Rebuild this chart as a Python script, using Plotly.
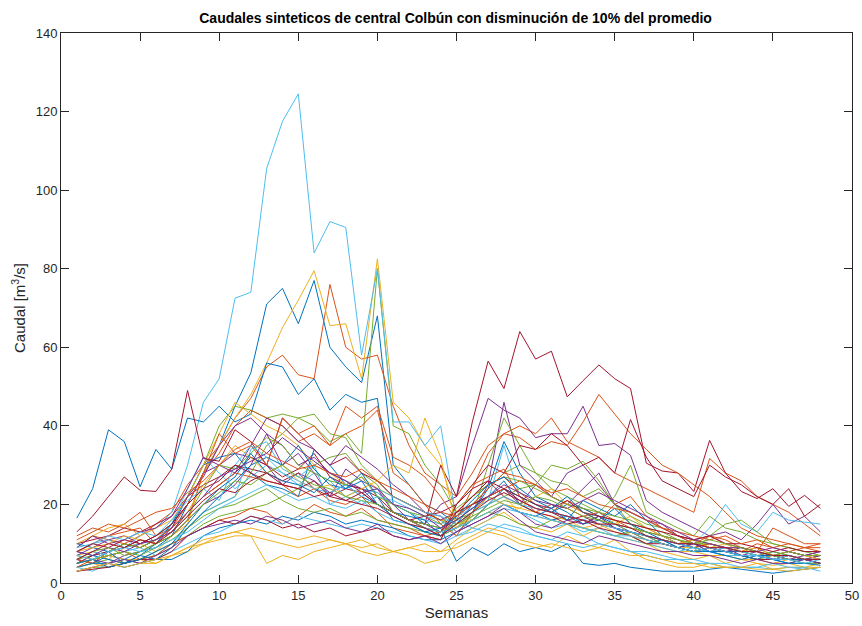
import plotly.graph_objects as go

semanas = list(range(1, 49))

# caudales sinteticos [m3/s], uno por serie
b00 = [6, 5, 7, 6, 8, 9, 12, 20, 28, 35, 45, 53.5, 71, 75, 66, 77, 60, 55, 51, 68, 30, 25, 20, 18, 15, 20, 22, 26, 20, 18, 16, 17, 15, 16, 14, 12, 10, 11, 9, 8, 9, 8, 7, 7, 6, 6, 5, 5]
o01 = [9, 12, 11, 10, 12, 15, 18, 25, 30, 35, 42, 47, 55, 58, 53, 52, 76, 60, 57, 58, 45, 35, 28, 25, 22, 28, 35, 38, 40, 38, 42, 36, 34, 32, 28, 26, 24, 22, 20, 18, 31.7, 28, 26, 22, 20, 18, 15, 12]
y02 = [7, 8, 6, 9, 10, 8, 12, 15, 28, 35, 42, 48, 56, 65, 72, 79.5, 65.5, 66, 52, 82.5, 46, 42, 35, 30, 18, 16, 20, 22, 18, 17, 16, 15, 14, 13, 12, 11, 10, 9, 8, 8, 7, 7, 6, 6, 5, 6, 5, 5]
p03 = [7, 9, 11, 12, 10, 12, 15, 20, 28, 30, 33, 32, 30, 25, 28, 26, 23, 25, 24, 20, 18, 16, 15, 20, 22, 35, 47, 44, 42, 37, 38, 38, 45, 35, 35.5, 32.5, 21, 18, 16, 14, 12, 13, 11, 15, 20, 15, 17, 13]
g04 = [6, 7, 8, 9, 10, 12, 15, 22, 30, 40, 45, 44, 42, 43, 42, 40, 36, 38, 33, 80, 40, 38, 30, 25, 18, 20, 24, 28, 30, 28, 26, 25, 22, 24, 20, 17, 15, 14, 12, 11, 10, 9, 8, 8, 7, 7, 6, 6]
l05 = [8, 10, 11, 9, 12, 14, 18, 30, 46, 52, 72.5, 74, 105.5, 117.5, 124.5, 84, 92, 90.5, 58, 80, 41, 41, 35, 40, 16, 14, 13, 15, 14, 12, 11, 13, 12, 10, 9, 8, 7, 6, 6, 5, 5, 4, 4, 4, 3.5, 4, 3.5, 4]
r06 = [10, 11, 12, 14, 13, 15, 17, 22, 25, 27, 30, 29, 28, 26, 28, 24, 22, 24, 23, 20, 18, 16, 15, 30, 22, 41, 56.5, 49.5, 64, 57, 59, 47.4, 51.5, 55.5, 52, 49.5, 30.5, 28.5, 28, 23.3, 36.3, 28, 23.3, 21.5, 24, 19.5, 22.3, 19]
b07 = [16.5, 24, 39, 36, 24.5, 34, 29, 42, 41, 45, 41, 43, 56, 55, 48, 52, 44, 48, 46, 47, 20, 18, 15, 14, 5.5, 9, 7, 10, 8, 9, 8, 10, 5, 4.5, 5, 4, 3.5, 3, 3, 3, 3.5, 4, 3.5, 3, 2.5, 3, 3.5, 4]
o08 = [12, 14, 13, 15, 18, 12, 14, 20, 28, 33, 40, 44, 42, 40, 36, 38, 35, 45, 42, 45, 32, 30, 27, 22, 16, 24, 33, 38, 37, 34, 36, 35, 41, 48, 43, 38, 34, 30, 28, 25, 22, 18, 14, 12, 11, 10, 9, 8]
y09 = [4, 5, 4, 6, 5, 5, 7, 8, 10, 12, 13, 12, 5, 7, 6, 8, 9, 10, 8, 7, 8, 7, 5, 6, 10, 12, 14, 13, 11, 10, 9, 12, 10, 9, 11, 8, 6, 5, 4, 4, 5, 4, 4, 5, 3.5, 4, 4, 5]
p10 = [6, 5, 8, 9, 11, 10, 12, 16, 20, 22, 25, 30, 38, 35, 30, 32, 28, 26, 24, 23, 20, 16, 14, 12, 15, 18, 25, 46, 30, 26, 22, 20, 24, 28, 20, 18, 16, 15, 12, 10, 9, 8, 9, 8, 7, 6, 7, 8]
g11 = [4, 5, 6, 5, 6, 7, 9, 14, 18, 20, 22, 28, 35, 38, 42, 43, 38, 37, 30, 26, 22, 20, 18, 16, 14, 17, 30, 42, 35, 28, 24, 22, 20, 18, 22, 30, 18, 16, 14, 12, 17, 14, 13, 11, 10, 9, 8, 8]
l12 = [5, 7, 8, 9, 10, 11, 15, 24, 32, 28, 24, 27, 30, 28, 25, 28, 26, 22, 24, 23, 20, 18, 16, 15, 17, 19, 21, 35, 22, 20, 18, 17, 16, 18, 15, 14, 13, 12, 11, 10, 14, 20, 15, 13, 18, 16, 15.5, 15]
r13 = [5, 7, 8, 10, 9, 11, 14, 18, 22, 25, 28, 32, 30, 27, 29, 33, 27, 25, 24, 22, 18, 16, 17, 18, 20, 25, 30, 28, 35, 34, 38, 35, 30, 32, 28, 41.6, 32, 26, 24, 22, 30, 27, 25, 22, 20, 24, 17, 20]
b14 = [8, 7, 6, 5, 7, 10, 15, 22, 30, 32, 33, 28, 25, 24, 22, 34, 30, 25, 22, 20, 18, 17, 16, 12, 14, 18, 24, 36, 28, 22, 20, 18, 15, 17, 14, 13, 12, 10, 9, 10, 8, 7, 7, 6, 6, 5, 6, 5]
o15 = [6, 5, 8, 10, 9, 11, 14, 18, 22, 25, 28, 27, 26, 25, 22, 24, 21, 20, 22, 18, 14, 13, 12, 11, 18, 22, 25, 27, 23, 20, 18, 21, 19, 17, 16, 14, 13, 12, 10, 11, 9, 8, 8, 9, 7, 8, 9, 10]
y16 = [10, 12, 14, 15, 12, 14, 16, 22, 30, 38, 46, 43, 40, 38, 35, 30, 28, 25, 27, 24, 22, 20, 18, 16, 15, 16, 18, 20, 19, 18, 17, 16, 14, 15, 13, 12, 11, 10, 9, 9, 8, 8, 7, 7, 6, 7, 6, 6]
p17 = [5, 6, 5, 7, 8, 10, 14, 22, 27, 35, 40, 42, 38, 30, 33, 28, 22, 29, 26, 24, 18, 16, 15, 13, 17, 20, 22, 24, 20, 25, 22, 28, 30, 25, 20, 18, 16, 14, 12, 11, 12, 10, 9, 8, 7, 8, 7, 6]
g18 = [3, 4, 4, 5, 6, 8, 10, 12, 15, 17, 18, 19, 20, 22, 24, 30, 32, 33, 28, 25, 18, 16, 15, 14, 16, 18, 20, 22, 24, 25, 30, 29, 31, 26, 20, 15, 12, 10, 9, 8, 12, 15, 16, 13, 10, 9, 8, 7]
l19 = [6, 8, 7, 8, 9, 7, 10, 14, 18, 20, 22, 34, 36, 29, 27, 30, 20, 22, 20, 22, 21, 19, 17, 16, 12, 14, 16, 19, 18, 16, 14, 15, 13, 14, 12, 11, 10, 9, 8, 9, 8, 7, 7, 6, 6, 5, 5, 5]
r20 = [13, 17, 22, 27, 23.6, 23.3, 29, 49, 31.7, 31, 39, 36, 30, 42, 38, 34, 30, 32, 28, 26, 22, 20, 18, 16, 18, 20, 22, 24, 21, 19, 18, 16, 17, 15, 14, 13, 12, 11, 10, 9, 10, 9, 8, 7, 7, 6, 6, 7]
b21 = [4, 5, 5, 4, 5, 6, 6, 8, 12, 14, 15, 16, 15, 17, 16, 18, 17, 15, 16, 15, 14, 12, 11, 11, 13, 16, 20, 24, 22, 20, 18, 20, 19, 17, 15, 13, 12, 11, 10, 10, 9, 8, 8, 7, 7, 6, 6, 5]
o22 = [4, 6, 7, 8, 6, 7, 10, 12, 14, 16, 17, 19, 18, 15, 17, 20, 18, 17, 19, 16, 15, 14, 12, 13, 20, 25, 27, 29, 22, 18, 20, 19, 17, 18, 16, 15, 14, 12, 11, 9, 10, 9, 8, 10, 9, 8, 7, 7]
y23 = [5, 6, 7, 6, 6, 5, 7, 9, 10, 11, 12, 12, 11, 10, 9, 10, 11, 10, 9, 10, 8, 9, 10, 8, 11, 14, 16, 18, 15, 14, 13, 15, 12, 14, 16, 12, 10, 8, 7, 6, 7, 5, 6, 5, 4.5, 5, 4, 4]
p24 = [9, 12, 10, 11, 13, 14, 17, 24, 32, 30, 28, 35, 42, 40, 36, 34, 30, 35, 32, 29, 25, 22, 18, 17, 13, 15, 17, 20, 18, 15, 14, 16, 15, 17, 14, 13, 11, 10, 9, 10, 8, 9, 7, 8, 6, 7, 6, 7]
g25 = [5, 6, 7, 8, 7, 9, 11, 14, 17, 19, 20, 22, 24, 21, 19, 18, 19, 17, 18, 16, 15, 14, 13, 12, 14, 16, 18, 17, 15, 14, 16, 15, 14, 13, 12, 13, 11, 10, 9, 8, 9, 8, 7, 6, 7, 6, 5, 5]
l26 = [4, 3, 5, 6, 5, 6, 8, 10, 12, 13, 15, 17, 16, 15, 17, 16, 15, 14, 15, 14, 13, 12, 11, 10, 12, 13, 15, 14, 13, 12, 11, 10, 9, 10, 9, 8, 8, 7, 6, 6, 5, 5, 4, 4, 5, 4, 4, 3]
r27 = [3, 3.5, 4, 5, 6, 6, 8, 12, 14, 16, 15, 17, 16, 14, 15, 13, 14, 12, 13, 14, 12, 11, 12, 11, 20, 24, 26, 22, 20, 18, 17, 15, 16, 14, 13, 12, 10, 10, 9, 8, 9, 8, 7, 6, 6, 7, 6, 5]
b28 = [10, 9, 8, 5, 7, 6, 9, 14, 18, 22, 26, 30, 32, 30, 35, 29, 25, 24, 28, 22, 16, 15, 13, 12, 16, 19, 22, 20, 18, 17, 19, 16, 21, 19, 17, 20, 16, 12, 10, 9, 8, 8, 7, 6, 8, 7, 6, 6]
o29 = [8, 10, 12, 13, 14, 10, 12, 16, 28, 38, 33, 35, 30, 42, 38, 40, 35, 38, 40, 44, 28, 25, 20, 15, 12, 18, 22, 24, 26, 25, 22, 20, 18, 16, 20, 22, 17, 14, 12, 10, 12, 11, 9, 8, 14, 12, 10, 10]
y30 = [8, 9, 10, 12, 11, 10, 13, 18, 25, 30, 35, 32, 28, 30, 26, 24, 25, 22, 24, 26, 30, 28, 42, 32, 14, 18, 22, 20, 19, 22, 24, 20, 18, 16, 15, 17, 14, 12, 10, 11, 9, 10, 8, 9, 7, 8, 7, 6]
p31 = [3, 4, 5, 6, 5, 7, 9, 12, 14, 15, 16, 15, 17, 16, 14, 15, 16, 14, 13, 15, 12, 11, 12, 10, 13, 15, 17, 19, 16, 13, 12, 11, 10, 12, 11, 10, 9, 8, 8, 7, 7, 6, 5, 6, 5, 5, 6, 5]
g32 = [7, 6, 8, 10, 9, 11, 13, 17, 24, 30, 29, 33, 37, 35, 30, 28, 26, 25, 27, 22, 20, 18, 17, 15, 19, 22, 25, 27, 26, 24, 22, 20, 19, 18, 17, 16, 14, 13, 11, 10, 10, 9, 8, 7, 8, 7, 6, 6]
l33 = [9, 10, 12, 11, 13, 12, 16, 21, 24, 21, 30, 35, 32, 28, 26, 24, 23, 25, 22, 24, 22, 20, 18, 17, 15, 18, 20, 22, 20, 19, 18, 17, 16, 15, 14, 13, 12, 11, 10, 9, 8, 9, 8, 7, 6, 7, 6, 6]
r34 = [8, 10, 9, 11, 10, 12, 15, 20, 24, 26, 30, 28, 26, 25, 24, 26, 22, 21, 23, 20, 18, 16, 14, 13, 18, 22, 26, 24, 22, 20, 19, 21, 18, 17, 16, 15, 14, 13, 12, 11, 12, 10, 10, 9, 8, 9, 8, 8]
b35 = [5, 6, 4, 5, 6, 8, 10, 15, 20, 24, 27, 33, 28, 26, 25, 23, 27, 24, 26, 20, 17, 15, 13, 14, 17, 21, 25, 27, 24, 21, 19, 22, 18, 16, 19, 15, 13, 11, 9, 8, 8, 7, 6, 7, 6, 5, 5, 4.5]
o36 = [11, 13, 15, 14, 16, 18, 19, 23, 26, 30, 34, 36, 33, 31, 29, 30, 28, 27, 29, 26, 24, 22, 20, 18, 17, 20, 24, 28, 27, 25, 23, 24, 22, 20, 19, 18, 16, 14, 13, 12, 11, 12, 10, 11, 9, 10, 9, 9]
y37 = [3, 4, 5, 4, 5, 6, 7, 9, 11, 12, 13, 14, 13, 12, 11, 12, 11, 10, 11, 9, 8, 9, 8, 8, 9, 11, 13, 12, 10, 9, 10, 9, 8, 9, 8, 7, 7, 6, 5, 5, 4, 4, 4, 3.5, 3.5, 3, 3.5, 4]
p38 = [8, 7, 9, 8, 10, 11, 13, 18, 22, 27, 29, 31, 33, 37, 34, 31, 28, 26, 23, 24, 20, 19, 17, 14, 16, 19, 22, 25, 23, 21, 20, 19, 21, 23, 21, 19, 17, 15, 13, 11, 10, 9, 9, 8, 9, 8, 7, 8]
g39 = [6, 8, 9, 7, 8, 10, 12, 16, 20, 23, 26, 25, 28, 30, 27, 25, 24, 22, 21, 20, 18, 16, 14, 13, 15, 17, 19, 21, 20, 22, 21, 19, 17, 16, 15, 14, 13, 12, 11, 10, 11, 10, 9, 8, 7, 8, 7, 7]
l40 = [7, 6, 8, 9, 8, 9, 11, 13, 16, 19, 21, 23, 25, 23, 21, 22, 20, 19, 21, 18, 16, 15, 14, 13, 14, 16, 18, 20, 18, 17, 16, 15, 14, 13, 12, 12, 11, 10, 9, 8, 9, 8, 7, 7, 6, 6, 5, 6]
r41 = [6, 8, 10, 9, 11, 10, 13, 17, 21, 24, 23, 26, 28, 25, 24, 22, 23, 21, 20, 19, 17, 15, 14, 12, 15, 18, 21, 23, 21, 19, 18, 17, 16, 15, 15, 14, 12, 11, 10, 10, 9, 9, 8, 8, 7, 7, 6, 6]

series = [b00, o01, y02, p03, g04, l05, r06, b07, o08, y09, p10, g11, l12, r13, b14, o15, y16,
          p17, g18, l19, r20, b21, o22, y23, p24, g25, l26, r27, b28, o29, y30, p31, g32, l33,
          r34, b35, o36, y37, p38, g39, l40, r41]

# orden de colores por defecto de MATLAB
colores = ["#0072BD", "#D95319", "#EDB120", "#7E2F8E", "#77AC30", "#4DBEEE", "#A2142F"]

fig = go.Figure()
for i, s in enumerate(series):
    fig.add_trace(go.Scatter(x=semanas, y=s, mode="lines",
                             line=dict(color=colores[i % 7], width=1),
                             showlegend=False))

eje = dict(showline=True, linecolor="#262626", linewidth=1, mirror="ticks",
           ticks="inside", ticklen=8, tickcolor="#262626", showgrid=False,
           zeroline=False, automargin=False, tickfont=dict(size=13, color="#262626"))

fig.update_xaxes(range=[0, 50], dtick=5, title=dict(text="Semanas", standoff=5,
                 font=dict(size=15, color="#262626")), **eje)
fig.update_yaxes(range=[0, 140], dtick=20, title=dict(text="Caudal [m<sup>3</sup>/s]", standoff=6,
                 font=dict(size=15, color="#262626")), **eje)

fig.update_layout(
    width=862, height=626,
    margin=dict(l=61, r=10, t=33, b=43),
    paper_bgcolor="white", plot_bgcolor="white",
    font=dict(family="Liberation Sans, Arial, sans-serif", color="#262626"),
    title=dict(text="<b>Caudales sinteticos de central Colbún con disminución de 10% del promedio</b>",
               x=0.5285, xanchor="center", y=0.971, yanchor="middle",
               font=dict(size=14, color="#000000")),
)

# sin margen en el cuerpo de la pagina, para que el grafico quede en el origen
fig.write_html("out.html", config={"displayModeBar": False},
               post_script="document.body.style.margin='0';document.body.style.overflow='hidden';")
